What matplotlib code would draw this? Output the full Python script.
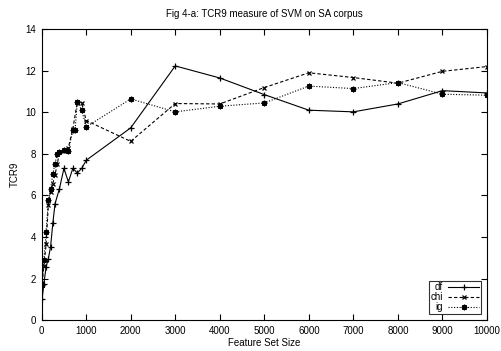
import matplotlib
matplotlib.use("Agg")
import matplotlib.pyplot as plt

# Feature set sizes
x_df = [10, 50, 100, 150, 200, 250, 300, 400, 500, 600, 700, 800, 900, 1000,
        2000, 3000, 4000, 5000, 6000, 7000, 8000, 9000, 10000]
df_vals = [1.0, 1.76, 2.56, 2.96, 3.52, 4.65, 5.6, 6.33, 7.3, 6.65, 7.3, 7.08, 7.3, 7.69,
           9.25, 12.23, 11.65, 10.85, 10.1, 10.02, 10.4, 11.04, 10.93]

x_chi = [10, 50, 100, 150, 200, 250, 300, 350, 400, 500, 600, 700, 800, 900, 1000,
         2000, 3000, 4000, 5000, 6000, 7000, 8000, 9000, 10000]
chi_vals = [1.8, 2.6, 3.65, 5.55, 6.17, 6.57, 7.0, 7.5, 8.08, 8.14, 8.3, 9.2, 10.5, 10.45, 9.6,
            8.6, 10.42, 10.4, 11.19, 11.9, 11.67, 11.4, 11.97, 12.2]

x_ig = [10, 50, 100, 150, 200, 250, 300, 350, 400, 500, 600, 700, 750, 800, 900, 1000,
        2000, 3000, 4000, 5000, 6000, 7000, 8000, 9000, 10000]
ig_vals = [1.7, 2.88, 4.25, 5.77, 6.3, 7.02, 7.53, 8.01, 8.1, 8.2, 8.14, 9.15, 9.15, 10.5, 10.1, 9.3,
           10.64, 10.02, 10.29, 10.45, 11.26, 11.14, 11.43, 10.87, 10.82]

plt.rcParams["font.family"] = ["Liberation Sans", "DejaVu Sans"]
plt.rcParams["font.size"] = 7

fig = plt.figure(figsize=(5.02, 3.51), dpi=100)
ax = fig.add_axes([0.083, 0.088, 0.887, 0.829])

lw = 0.8
ax.plot(x_df, df_vals, color="black", linestyle="-", linewidth=lw,
        marker="+", markersize=4, markeredgewidth=0.9, label="df")
ax.plot(x_chi, chi_vals, color="black", linestyle=(0, (3, 2)), linewidth=lw,
        marker="x", markersize=3.5, markeredgewidth=0.9, label="chi")
ax.plot(x_ig, ig_vals, color="black", linestyle=(0, (1, 1.5)), linewidth=lw,
        marker=(8, 2, 0), markersize=4, markeredgewidth=0.9, label="ig")

ax.set_xlim(0, 10000)
ax.set_ylim(0, 14)
ax.set_xticks(range(0, 10001, 1000))
ax.set_yticks(range(0, 15, 2))
ax.tick_params(direction="in", top=True, right=True, length=4, width=0.8,
               labelsize=7, pad=4)
for s in ax.spines.values():
    s.set_linewidth(0.8)

ax.set_xlabel("Feature Set Size", fontsize=7, labelpad=1.5)
ax.set_ylabel("TCR9", fontsize=7, labelpad=4)
ax.set_title("Fig 4-a: TCR9 measure of SVM on SA corpus", fontsize=7, pad=9)

leg = ax.legend(loc="lower right", bbox_to_anchor=(0.99, 0.015), markerfirst=False,
                fontsize=7, frameon=True, fancybox=False, handlelength=3.2,
                borderpad=0.15, labelspacing=0.0, handletextpad=0.5,
                borderaxespad=0.2)
leg.get_frame().set_edgecolor("black")
leg.get_frame().set_linewidth(0.8)

fig.savefig("out.png", dpi=100)
